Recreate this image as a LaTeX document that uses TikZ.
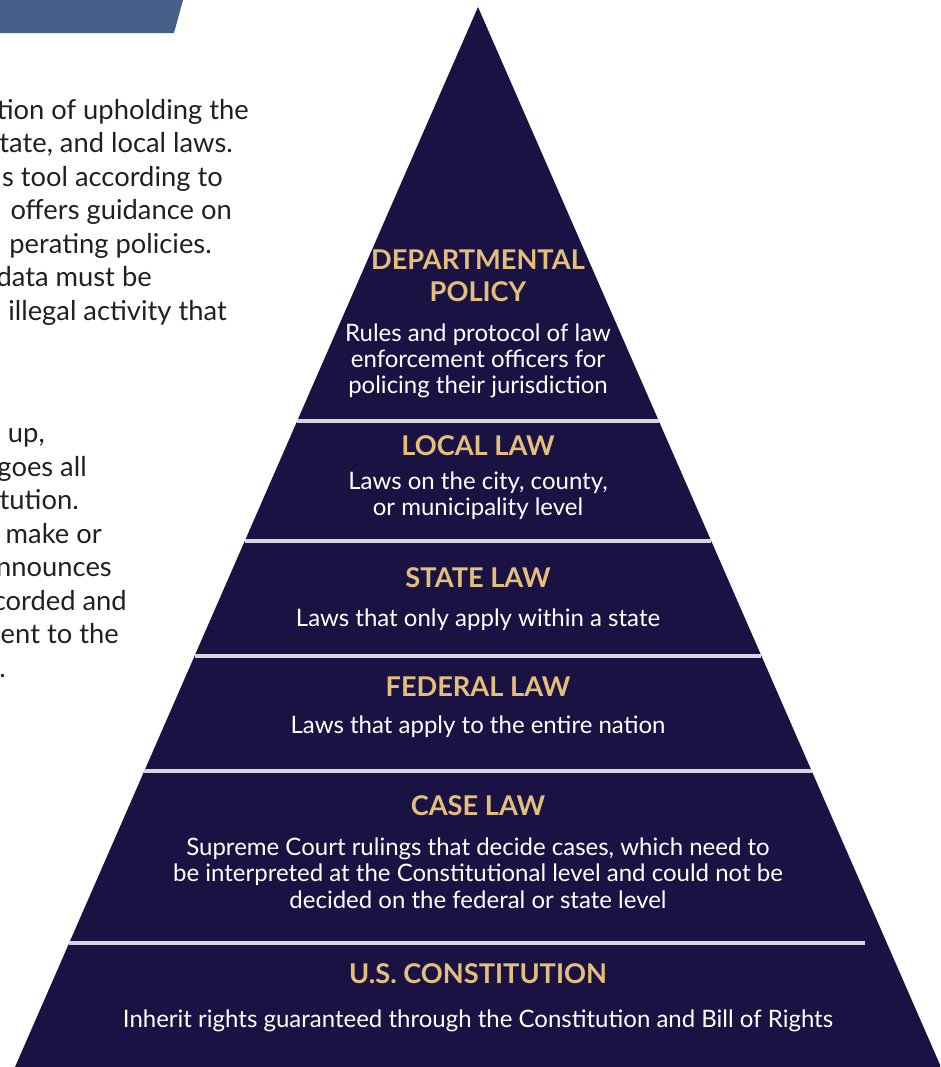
\documentclass[tikz,border=0pt]{standalone}
\usepackage{fontspec}
\setmainfont{Lato}
\definecolor{navy}{RGB}{26,18,66}
\definecolor{rule}{RGB}{214,212,224}
\definecolor{gold}{RGB}{227,191,123}
\definecolor{ink}{RGB}{35,31,32}
\definecolor{banner}{RGB}{70,96,138}
\newcommand\pyrhead{\fontsize{20.4}{24}\selectfont\bfseries}
\newcommand\pyrbody{\fontsize{18}{22}\selectfont}
\newcommand\sidetext{\fontsize{20.5}{25}\selectfont}
\tikzset{
  head/.style={font=\pyrhead, text=gold, anchor=base, inner sep=0pt},
  body/.style={font=\pyrbody, text=white, anchor=base, inner sep=0pt},
  side/.style={font=\sidetext, text=ink, anchor=base east, inner sep=0pt},
  sep/.style={draw=rule, line width=3pt}
}
\begin{document}
\begin{tikzpicture}[x=0.75pt, y=-0.75pt]
\useasboundingbox (0,0) rectangle (940,1067);
\clip (0,0) rectangle (940,1067);

% title banner in the corner
\fill[banner] (0,0) -- (183,0) -- (174,33) -- (0,33) -- cycle;

% side paragraphs
\node[side] (p1a) at (249,119)   {tion of upholding the};
\node[side] (p1b) at (233,152.5) {tate, and local laws.};
\node[side] (p1c) at (223,186)   {s tool according to};
\node[side] (p1d) at (232,219.5) {offers guidance on};
\node[side] (p1e) at (212,253)   {perating policies.};
\node[side] (p1f) at (152,286.5) {data must be};
\node[side] (p1g) at (227,320)   {illegal activity that};

\node[side] (p2a) at (45,442.5)  {up,};
\node[side] (p2b) at (87,476)    {goes all};
\node[side] (p2c) at (79,509.5)  {tution.};
\node[side] (p2d) at (102,543)   {make or};
\node[side] (p2e) at (112,576.5) {nnounces};
\node[side] (p2f) at (127,610)   {corded and};
\node[side] (p2g) at (119,643.5) {ent to the};
\node[side] (p2h) at (6,677)     {.};

% pyramid body
\fill[navy] (478,7) -- (941,1067) -- (15,1067) -- cycle;

% tier separators
\draw[sep] (297,421) -- (659,421);
\draw[sep] (245,541) -- (711,541);
\draw[sep] (195,656) -- (761,656);
\draw[sep] (144,771) -- (812,771);
\draw[sep] (69,943) -- (865,943);

% tier 1
\node[head] (dpA) at (478,269.5) {DEPARTMENTAL};
\node[head] (dpB) at (478,301.5) {POLICY};
\node[body] (dp1) at (478,341) {Rules and protocol of law};
\node[body] (dp2) at (478,367) {enforcement officers for};
\node[body] (dp3) at (478,393) {policing their jurisdiction};

% tier 2
\node[head] (lcA) at (478,455.5) {LOCAL LAW};
\node[body] (lc1) at (478,489) {Laws on the city, county,};
\node[body] (lc2) at (478,515.5) {or municipality level};

% tier 3
\node[head] (stA) at (478,587.5) {STATE LAW};
\node[body] (st1) at (478,626) {Laws that only apply within a state};

% tier 4
\node[head] (fdA) at (478,696.5) {FEDERAL LAW};
\node[body] (fd1) at (478,733) {Laws that apply to the entire nation};

% tier 5
\node[head] (csA) at (478,815.5) {CASE LAW};
\node[body] (cs1) at (478,855) {Supreme Court rulings that decide cases, which need to};
\node[body] (cs2) at (478,881.5) {be interpreted at the Constitutional level and could not be};
\node[body] (cs3) at (478,908) {decided on the federal or state level};

% tier 6
\node[head] (usA) at (478,983.5) {U.S. CONSTITUTION};
\node[body] (us1) at (478,1027) {Inherit rights guaranteed through the Constitution and Bill of Rights};
\end{tikzpicture}
\end{document}
